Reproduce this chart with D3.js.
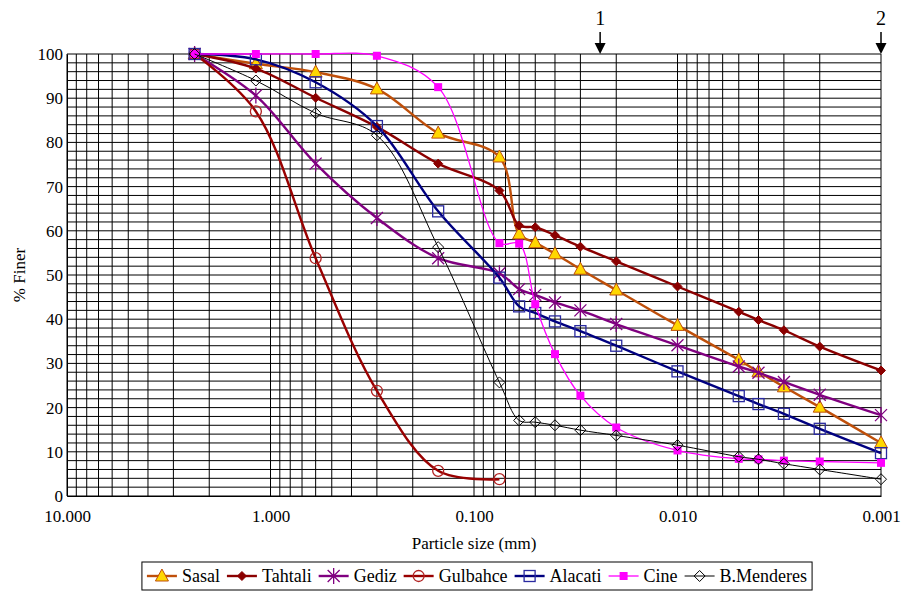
<!DOCTYPE html>
<html>
<head>
<meta charset="utf-8">
<script src="https://cdn.jsdelivr.net/npm/d3@7"></script>
<style>
  body { margin: 0; background: #fff; }
</style>
</head>
<body>
<div class="chart"></div>
<script>
const margin = { top: 54, bottom: 97, left: 67, right: 29 };
const width = 910 - margin.left - margin.right;
const height = 593 - margin.top - margin.bottom;
const font = "'Liberation Serif', 'Times New Roman', Times, serif";

// sieve / hydrometer sizes (mm)
const sizes = [2.36, 1.18, 0.6, 0.3, 0.15, 0.075, 0.06, 0.05, 0.04, 0.03, 0.02, 0.01, 0.005, 0.004, 0.003, 0.002, 0.001];
const sizes_gulbahce = [2.36, 1.18, 0.6, 0.3, 0.15, 0.075];

// % finer for each site
const sasal      = [100, 97.8, 95.9, 92.1, 82.1, 76.7, 59.3, 57.3, 54.8, 51.3, 46.6, 38.6, 30.8, 28.1, 24.7, 20.1, 12.0];
const tahtali    = [100, 96.7, 90.1, 83.5, 75.2, 69.1, 61.2, 60.8, 59.0, 56.4, 53.1, 47.4, 41.7, 39.8, 37.5, 33.8, 28.4];
const gediz      = [100, 90.6, 75.2, 62.9, 53.8, 50.4, 46.8, 45.5, 43.8, 42.0, 38.9, 34.1, 29.3, 27.9, 25.8, 22.9, 18.3];
const gulbahce   = [100, 87.0, 53.8, 23.8, 5.7, 3.8];
const alacati    = [100, 98.8, 93.6, 83.7, 64.4, 49.4, 42.9, 41.4, 39.5, 37.3, 34.0, 28.2, 22.6, 20.8, 18.6, 15.2, 9.7];
const cine       = [100, 100, 100, 99.6, 92.5, 57.2, 57.1, 43.4, 32.1, 22.7, 15.5, 10.3, 8.4, 8.3, 8.0, 7.8, 7.5];
const bmenderes  = [100, 94.0, 86.6, 81.6, 56.3, 25.7, 17.1, 16.7, 16.0, 14.9, 13.7, 11.5, 8.9, 8.3, 7.3, 6.0, 3.8];

const x_ticks = [10, 1, 0.1, 0.01, 0.001];
const y_ticks = [0, 10, 20, 30, 40, 50, 60, 70, 80, 90, 100];

// arrows above the plot
const arrow_sizes = [0.024, 0.001];
const arrow_labels = ["1", "2"];

const series = [
    { name: "Sasal", x: sizes, y: sasal, color: "#BF4F0A", lw: 2.4, marker: "triangle" },
    { name: "Tahtali", x: sizes, y: tahtali, color: "#8B0000", lw: 2.4, marker: "diamondFill" },
    { name: "Gediz", x: sizes, y: gediz, color: "#800080", lw: 2.4, marker: "asterisk" },
    { name: "Gulbahce", x: sizes_gulbahce, y: gulbahce, color: "#990000", lw: 2.4, marker: "circle" },
    { name: "Alacati", x: sizes, y: alacati, color: "#000080", lw: 2.4, marker: "square" },
    { name: "Cine", x: sizes, y: cine, color: "#FF00FF", lw: 1.3, marker: "squareFill" },
    { name: "B.Menderes", x: sizes, y: bmenderes, color: "#000000", lw: 1, marker: "diamond" }
];

const svg = d3.select(".chart")
    .append("svg")
    .attr("width", 910)
    .attr("height", 593);

const g = svg.append("g")
    .attr("transform", `translate(${margin.left},${margin.top})`);

const x_scale = d3.scaleLog().domain([10, 0.001]).range([0, width]);
const y_scale = d3.scaleLinear().domain([0, 100]).range([height, 0]);

/* GRID */
var grid_x = [];
[1, 0.1, 0.01, 0.001].forEach(function(dec) {
    for (var k = 1; k <= 9; k++) grid_x.push(k * dec);
});
grid_x.push(10);

g.selectAll("line.vgrid")
    .data(grid_x)
    .enter()
    .append("line")
    .attr("class", "vgrid")
    .attr("x1", function(d) { return x_scale(d); })
    .attr("x2", function(d) { return x_scale(d); })
    .attr("y1", 0)
    .attr("y2", height)
    .attr("stroke", "#000")
    .attr("stroke-width", 1);

g.selectAll("line.hgrid")
    .data(d3.range(0, 101, 2))
    .enter()
    .append("line")
    .attr("class", "hgrid")
    .attr("x1", 0)
    .attr("x2", width)
    .attr("y1", function(d) { return y_scale(d); })
    .attr("y2", function(d) { return y_scale(d); })
    .attr("stroke", "#000")
    .attr("stroke-width", 1);

/* AXES */
g.append("g")
    .attr("class", "y_axis")
    .call(d3.axisLeft(y_scale).tickValues(y_ticks).tickSize(0).tickPadding(4))
    .call(function(a) { a.select(".domain").attr("stroke", "#000"); })
    .selectAll("text")
    .style("font-family", font)
    .style("font-size", "17px")
    .attr("fill", "#000");

g.append("g")
    .attr("class", "x_axis")
    .attr("transform", `translate(0,${height})`)
    .call(d3.axisBottom(x_scale).tickValues(x_ticks).tickFormat(d3.format(".3f")).tickSize(0).tickPadding(14))
    .call(function(a) { a.select(".domain").attr("stroke", "#000"); })
    .selectAll("text")
    .style("font-family", font)
    .style("font-size", "17px")
    .attr("fill", "#000");

g.append("text")
    .attr("x", width / 2)
    .attr("y", height + 53)
    .attr("text-anchor", "middle")
    .style("font-family", font)
    .style("font-size", "17px")
    .text("Particle size (mm)");

g.append("text")
    .attr("transform", `translate(-42,${height / 2}) rotate(-90)`)
    .attr("text-anchor", "middle")
    .style("font-family", font)
    .style("font-size", "17px")
    .text("% Finer");

/* ARROWS */
arrow_sizes.forEach(function(s, i) {
    var ax = x_scale(s);
    g.append("text")
        .attr("x", ax)
        .attr("y", -29)
        .attr("text-anchor", "middle")
        .style("font-family", font)
        .style("font-size", "20px")
        .text(arrow_labels[i]);
    g.append("line")
        .attr("x1", ax).attr("x2", ax)
        .attr("y1", -22).attr("y2", -8)
        .attr("stroke", "#000")
        .attr("stroke-width", 1.5);
    g.append("path")
        .attr("d", `M${ax - 5.5},-11 L${ax + 5.5},-11 L${ax},0 Z`)
        .attr("fill", "#000");
});

/* MARKERS */
function drawMarker(sel, type, color) {
    if (type === "triangle") {
        sel.append("path").attr("d", "M0,-7 L6.5,5 L-6.5,5 Z")
            .attr("fill", "#FFD700").attr("stroke", color).attr("stroke-width", 1);
    } else if (type === "diamondFill") {
        sel.append("path").attr("d", "M0,-4.5 L4.5,0 L0,4.5 L-4.5,0 Z")
            .attr("fill", color).attr("stroke", color).attr("stroke-width", 1);
    } else if (type === "asterisk") {
        sel.append("path").attr("d", "M-6,-6 L6,6 M-6,6 L6,-6 M0,-8 L0,8")
            .attr("fill", "none").attr("stroke", color).attr("stroke-width", 1.3);
    } else if (type === "circle") {
        sel.append("circle").attr("r", 5.5)
            .attr("fill", "none").attr("stroke", "#B22222").attr("stroke-width", 1.3);
    } else if (type === "square") {
        sel.append("rect").attr("x", -5.5).attr("y", -5.5).attr("width", 11).attr("height", 11)
            .attr("fill", "none").attr("stroke", "#2A2AA0").attr("stroke-width", 1.3);
    } else if (type === "squareFill") {
        sel.append("rect").attr("x", -4).attr("y", -4).attr("width", 8).attr("height", 8)
            .attr("fill", color);
    } else if (type === "diamond") {
        sel.append("path").attr("d", "M0,-5.5 L5.5,0 L0,5.5 L-5.5,0 Z")
            .attr("fill", "none").attr("stroke", "#000").attr("stroke-width", 1);
    }
}

/* LINES */
var line = d3.line()
    .x(function(d) { return x_scale(d[0]); })
    .y(function(d) { return y_scale(d[1]); })
    .curve(d3.curveCatmullRom.alpha(0.5));

series.forEach(function(s) {
    var pts = s.x.map(function(v, i) { return [v, s.y[i]]; });
    g.append("path")
        .datum(pts)
        .attr("d", line)
        .attr("fill", "none")
        .attr("stroke", s.color)
        .attr("stroke-width", s.lw);
    g.selectAll(null)
        .data(pts)
        .enter()
        .append("g")
        .attr("transform", function(d) { return `translate(${x_scale(d[0])},${y_scale(d[1])})`; })
        .each(function() { drawMarker(d3.select(this), s.marker, s.color); });
});

/* LEGEND */
const legend = svg.append("g").attr("class", "legend");
const legend_box = legend.append("rect")
    .attr("fill", "#fff")
    .attr("stroke", "#000")
    .attr("stroke-width", 1);

var lx = 0;
series.forEach(function(s) {
    var item = legend.append("g").attr("transform", `translate(${lx},0)`);
    item.append("line")
        .attr("x1", 0).attr("x2", 30)
        .attr("stroke", s.color)
        .attr("stroke-width", s.lw);
    drawMarker(item.append("g").attr("transform", "translate(15,0)"), s.marker, s.color);
    var t = item.append("text")
        .attr("x", 35)
        .attr("y", 6)
        .style("font-family", font)
        .style("font-size", "18px")
        .text(s.name);
    lx += 35 + t.node().getComputedTextLength() + 7;
});
var legend_w = lx - 7;
var legend_left = 477 - legend_w / 2;
legend.attr("transform", `translate(${legend_left},576)`);
legend_box
    .attr("x", -5).attr("y", -14)
    .attr("width", legend_w + 10).attr("height", 28);
</script>
</body>
</html>
